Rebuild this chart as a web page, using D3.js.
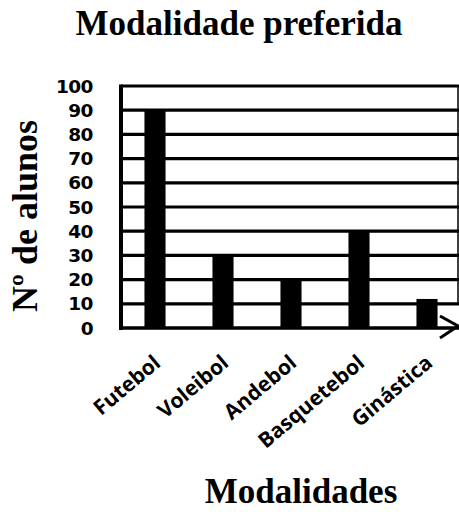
<!DOCTYPE html>
<html><head><meta charset="utf-8">
<script src="https://cdn.jsdelivr.net/npm/d3@7"></script>
<style>html,body{margin:0;padding:0;background:#fff;}svg{display:block;}</style>
</head><body>
<script>
const categories = ["Futebol", "Voleibol", "Andebol", "Basquetebol", "Ginástica"];
const values = [90, 30, 20, 40, 12];
const yTicks = [0, 10, 20, 30, 40, 50, 60, 70, 80, 90, 100];
const titleText = "Modalidade preferida";
const xTitleText = "Modalidades";
const yTitleText = "Nº de alunos";

const W = 459, H = 512;
const plotLeft = 121, plotRight = 461, plotTop = 86, plotBottom = 328;

const svg = d3.select("body").append("svg").attr("width", W).attr("height", H);

const x = d3.scaleBand().domain(categories).range([plotLeft, plotRight]).paddingInner(0.69).paddingOuter(0.345);
const y = d3.scaleLinear().domain([0, 100]).range([plotBottom, plotTop]);

// gridlines
svg.append("g").selectAll("line").data(yTicks.filter(d => d > 0)).join("line")
  .attr("x1", plotLeft).attr("x2", W).attr("y1", d => y(d)).attr("y2", d => y(d))
  .attr("stroke", "#000").attr("stroke-width", 3.2);

// right frame edge
svg.append("line").attr("x1", W - 1).attr("x2", W - 1).attr("y1", y(100)).attr("y2", y(10))
  .attr("stroke", "#000").attr("stroke-width", 1.5);

// bars
svg.append("g").selectAll("rect").data(values).join("rect")
  .attr("x", (d, i) => x(categories[i]))
  .attr("width", x.bandwidth())
  .attr("y", d => y(d))
  .attr("height", d => y(0) - y(d))
  .attr("fill", "#000");

// y axis line
svg.append("line").attr("x1", plotLeft).attr("x2", plotLeft).attr("y1", y(100) - 1.5).attr("y2", y(0) + 2)
  .attr("stroke", "#000").attr("stroke-width", 4);

// x axis baseline with arrow
svg.append("line").attr("x1", plotLeft - 2).attr("x2", W).attr("y1", y(0)).attr("y2", y(0))
  .attr("stroke", "#000").attr("stroke-width", 3.5);
svg.append("path")
  .attr("d", `M${W - 19},${y(0) - 12}L${W - 1},${y(0) - 2}L${W - 19},${y(0) + 10}`)
  .attr("fill", "none").attr("stroke", "#000").attr("stroke-width", 3);

// y tick labels
svg.append("g").selectAll("text").data(yTicks).join("text")
  .attr("x", 93).attr("y", d => y(d)).attr("dy", "0.36em")
  .attr("text-anchor", "end")
  .attr("font-family", "DejaVu Sans").attr("font-weight", "bold").attr("font-size", 18.5)
  .attr("letter-spacing", -0.5)
  .text(d => d);

// x category labels
svg.append("g").selectAll("text").data(categories).join("text")
  .attr("transform", d => `translate(${x(d) + x.bandwidth() / 2 + 7},${plotBottom + 37}) rotate(-40)`)
  .attr("text-anchor", "end")
  .attr("font-family", "Open Sans").attr("font-weight", "bold").attr("font-size", 21)
  .text(d => d);

// title
svg.append("text").attr("x", 239).attr("y", 35).attr("text-anchor", "middle")
  .attr("font-family", "Liberation Serif").attr("font-weight", "bold").attr("font-size", 35)
  .text(titleText);

// x title
svg.append("text").attr("x", 301).attr("y", 503).attr("text-anchor", "middle")
  .attr("font-family", "Liberation Serif").attr("font-weight", "bold").attr("font-size", 35)
  .text(xTitleText);

// y title
svg.append("text").attr("transform", "translate(37,216) rotate(-90)").attr("text-anchor", "middle")
  .attr("font-family", "Liberation Serif").attr("font-weight", "bold").attr("font-size", 36)
  .text(yTitleText);
</script>
</body></html>
